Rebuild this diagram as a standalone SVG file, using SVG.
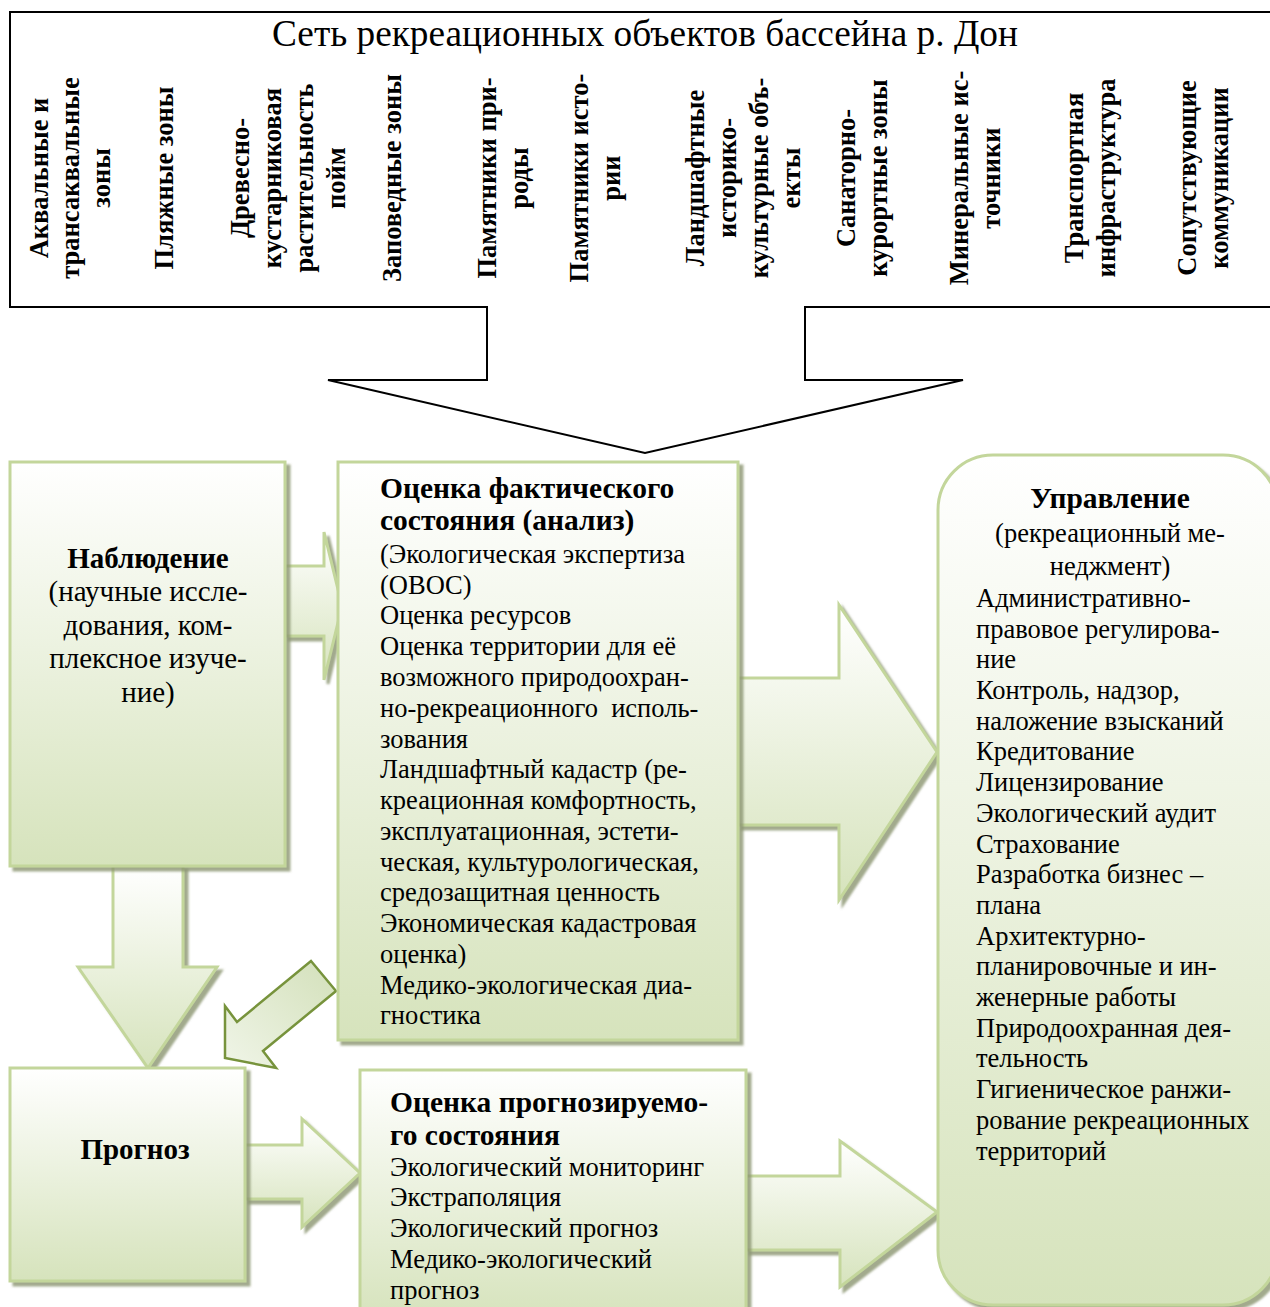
<svg xmlns="http://www.w3.org/2000/svg" width="1270" height="1307" viewBox="0 0 1270 1307">
<defs>
<linearGradient id="gv" x1="0" y1="0" x2="0" y2="1">
<stop offset="0" stop-color="#ffffff"/>
<stop offset="1" stop-color="#d6e3bc"/>
</linearGradient>
<linearGradient id="gd" x1="0" y1="1" x2="1" y2="0">
<stop offset="0" stop-color="#f0f5e8"/>
<stop offset="1" stop-color="#d3e0ba"/>
</linearGradient>
<filter id="sh" x="-10%" y="-10%" width="130%" height="130%">
<feDropShadow dx="4" dy="4" stdDeviation="1" flood-color="#8a9470" flood-opacity="0.8"/>
</filter>
<style>
.t{font-family:"Liberation Serif","Times New Roman",serif;font-size:26.5px;fill:#000}
.b{font-weight:bold}
.h{font-weight:bold;font-size:29.5px}
.c{text-anchor:middle}
.big{font-size:29px}
.ttl{font-size:37.3px}
.box{fill:url(#gv);stroke:#c3d69b;stroke-width:3;filter:url(#sh)}
.arr{fill:url(#gv);stroke:#c3d69b;stroke-width:3;filter:url(#sh)}
.darr{fill:url(#gd);stroke:#77933c;stroke-width:2.5}
</style>
</defs>
<rect width="1270" height="1307" fill="#fff"/>

<g id="network">
<path d="M1275,12 H10 V307 H487 V380 H328 L645,453 L963,380 H805 V307 H1275" fill="#fff" stroke="#000" stroke-width="2"/>
<text class="t ttl c" x="645" y="46">Сеть рекреационных объектов бассейна р. Дон</text>
<g class="t b c">
<text transform="translate(48,178) rotate(-90)">Аквальные и</text>
<text transform="translate(79,178) rotate(-90)">трансаквальные</text>
<text transform="translate(110,178) rotate(-90)">зоны</text>
<text transform="translate(173,178) rotate(-90)">Пляжные зоны</text>
<text transform="translate(249,178) rotate(-90)">Древесно-</text>
<text transform="translate(281,178) rotate(-90)">кустарниковая</text>
<text transform="translate(313,178) rotate(-90)">растительность</text>
<text transform="translate(345,178) rotate(-90)">пойм</text>
<text transform="translate(401,178) rotate(-90)">Заповедные зоны</text>
<text transform="translate(496,178) rotate(-90)">Памятники при-</text>
<text transform="translate(528,178) rotate(-90)">роды</text>
<text transform="translate(588,178) rotate(-90)">Памятники исто-</text>
<text transform="translate(620,178) rotate(-90)">рии</text>
<text transform="translate(704,178) rotate(-90)">Ландшафтные</text>
<text transform="translate(736,178) rotate(-90)">историко-</text>
<text transform="translate(768,178) rotate(-90)">культурные объ-</text>
<text transform="translate(800,178) rotate(-90)">екты</text>
<text transform="translate(855,178) rotate(-90)">Санаторно-</text>
<text transform="translate(887,178) rotate(-90)">курортные зоны</text>
<text transform="translate(968,178) rotate(-90)">Минеральные ис-</text>
<text transform="translate(1000,178) rotate(-90)">точники</text>
<text transform="translate(1083,178) rotate(-90)">Транспортная</text>
<text transform="translate(1115,178) rotate(-90)">инфраструктура</text>
<text transform="translate(1196,178) rotate(-90)">Сопутствующие</text>
<text transform="translate(1228,178) rotate(-90)">коммуникации</text>
</g>
</g>

<g id="connectors">
<polygon class="arr" points="285,566 324,566 324,532 342,606 324,680 324,636 285,636"/>
<polygon class="arr" points="738,678 839,678 839,605 937,752 839,900 839,825 738,825"/>
<polygon class="arr" points="113,866 183,866 183,967 217,967 148,1068 78,967 113,967"/>
<polygon class="arr" points="245,1145 302,1145 302,1119 360,1173 302,1227 302,1199 245,1199"/>
<polygon class="arr" points="746,1176 840,1176 840,1141 937,1212 840,1287 840,1250 746,1250"/>
<polygon class="darr" points="311,961 336,991 263,1051 276,1068 225,1058 225,1006 237,1022"/>
</g>

<g id="observation">
<rect class="box" x="10" y="462" width="275" height="404"/>
<g class="t big c">
<text class="b" x="148" y="568">Наблюдение</text>
<text x="148" y="601">(научные иссле-</text>
<text x="148" y="635">дования, ком-</text>
<text x="148" y="668">плексное изуче-</text>
<text x="148" y="702">ние)</text>
</g>
</g>

<g id="assessment">
<rect class="box" x="338" y="462" width="400" height="578"/>
<g class="t">
<text class="h" x="380" y="498">Оценка фактического</text>
<text class="h" x="380" y="530">состояния (анализ)</text>
<text x="380" y="563">(Экологическая экспертиза</text>
<text x="380" y="594">(ОВОС)</text>
<text x="380" y="624">Оценка ресурсов</text>
<text x="380" y="655">Оценка территории для её</text>
<text x="380" y="686">возможного природоохран-</text>
<text x="380" y="717" xml:space="preserve">но-рекреационного  исполь-</text>
<text x="380" y="748">зования</text>
<text x="380" y="778">Ландшафтный кадастр (ре-</text>
<text x="380" y="809">креационная комфортность,</text>
<text x="380" y="840">эксплуатационная, эстети-</text>
<text x="380" y="871">ческая, культурологическая,</text>
<text x="380" y="901">средозащитная ценность</text>
<text x="380" y="932">Экономическая кадастровая</text>
<text x="380" y="963">оценка)</text>
<text x="380" y="994">Медико-экологическая диа-</text>
<text x="380" y="1024">гностика</text>
</g>
</g>

<g id="management">
<rect class="box" x="938" y="455" width="340" height="850" rx="55" ry="55"/>
<g class="t">
<text class="h c" x="1110" y="508">Управление</text>
<text class="c" x="1110" y="542">(рекреационный ме-</text>
<text class="c" x="1110" y="575">неджмент)</text>
<text x="976" y="607">Административно-</text>
<text x="976" y="638">правовое регулирова-</text>
<text x="976" y="668">ние</text>
<text x="976" y="699">Контроль, надзор,</text>
<text x="976" y="730">наложение взысканий</text>
<text x="976" y="760">Кредитование</text>
<text x="976" y="791">Лицензирование</text>
<text x="976" y="822">Экологический аудит</text>
<text x="976" y="853">Страхование</text>
<text x="976" y="883">Разработка бизнес –</text>
<text x="976" y="914">плана</text>
<text x="976" y="945">Архитектурно-</text>
<text x="976" y="975">планировочные и ин-</text>
<text x="976" y="1006">женерные работы</text>
<text x="976" y="1037">Природоохранная дея-</text>
<text x="976" y="1067">тельность</text>
<text x="976" y="1098">Гигиеническое ранжи-</text>
<text x="976" y="1129">рование рекреационных</text>
<text x="976" y="1160">территорий</text>
</g>
</g>

<g id="forecast">
<rect class="box" x="10" y="1068" width="235" height="213"/>
<text class="t big b c" x="135" y="1159">Прогноз</text>
</g>

<g id="forecast-assessment">
<rect class="box" x="360" y="1070" width="386" height="250"/>
<g class="t">
<text class="h" x="390" y="1112">Оценка прогнозируемо-</text>
<text class="h" x="390" y="1145">го состояния</text>
<text x="390" y="1176">Экологический мониторинг</text>
<text x="390" y="1206">Экстраполяция</text>
<text x="390" y="1237">Экологический прогноз</text>
<text x="390" y="1268">Медико-экологический</text>
<text x="390" y="1299">прогноз</text>
</g>
</g>
</svg>
